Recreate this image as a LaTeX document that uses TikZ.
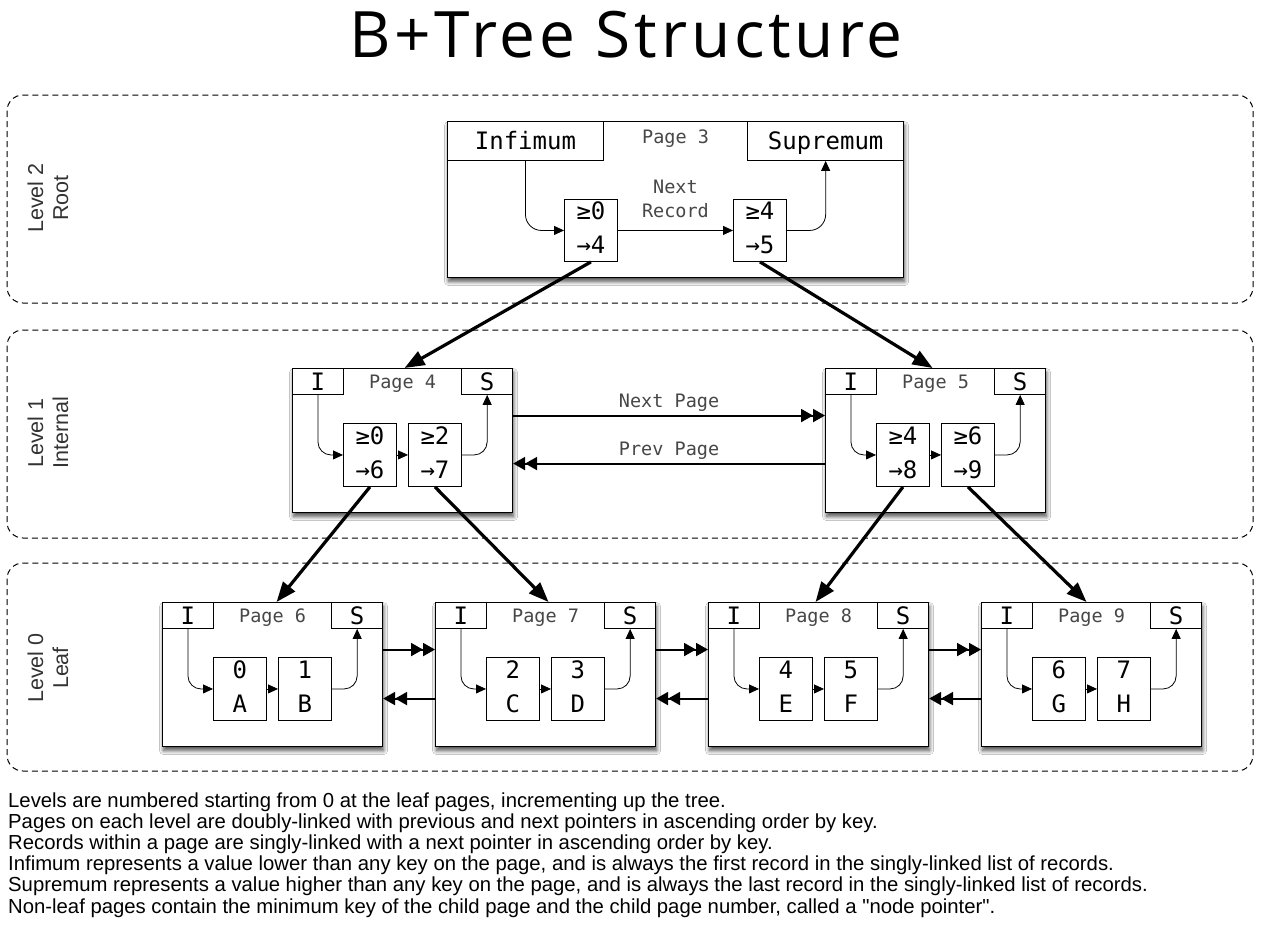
\documentclass[tikz,border=0pt]{standalone}
\usepackage{fontspec}
\setmainfont{Liberation Sans}
\newfontfamily\monof{DejaVu Sans Mono}
\newfontfamily\titlef{Open Sans}[LetterSpace=6]
\usetikzlibrary{arrows.meta,shadows.blur,calc}

\newcommand\recst{\rule[-5pt]{0pt}{20pt}}
\newcommand\rectext[2]{\recst#1\\\recst#2}
\newcommand\dq{\XeTeXglyph\XeTeXcharglyph"22\relax}

\tikzset{
  levelbox/.style={draw, line width=1pt, dash pattern=on 6pt off 4pt, rounded corners=16pt},
  levellabel/.style={rotate=90, align=center, text=black!80, font=\fontsize{21.5}{25}\selectfont},
  pagebox/.style={draw, line width=1.1pt, fill=white, inner sep=0pt, anchor=north west,
    blur shadow={shadow blur steps=8, shadow xshift=1pt, shadow yshift=-4pt, shadow blur radius=4pt, shadow opacity=70}},
  hdrbox/.style={draw, line width=0.9pt, fill=white, inner sep=0pt, minimum width=51pt, minimum height=26pt,
    text height=17.5pt, text depth=0pt, font=\monof\fontsize{24}{24}\selectfont},
  pglabel/.style={inner sep=1pt, text=black!72, font=\monof\fontsize{18.5}{24}\selectfont},
  recbox/.style={draw, line width=0.9pt, inner sep=0pt, minimum width=53pt, minimum height=63pt,
    anchor=north west, align=center, font=\monof\fontsize{24}{34}\selectfont},
  recarrow/.style={line width=0.8pt, -{Triangle[length=10pt,width=9pt]}},
  treearrow/.style={line width=3.2pt, -{Triangle[length=20pt,width=15pt]}},
  pagelink/.style={line width=2pt, -{Triangle[length=12pt,width=13pt]Triangle[length=12pt,width=13pt]}},
  notetext/.style={anchor=base west, inner sep=0pt, font=\fontsize{20.3}{21}\selectfont}
}

\newcommand\smallpage[6]{%
  \node[pagebox, minimum width=220pt, minimum height=144pt] (#1) at (#2,#3) {};
  \node[hdrbox, anchor=north west] (#1i) at (#1.north west) {I};
  \node[hdrbox, anchor=north east] (#1s) at (#1.north east) {S};
  \node[pglabel] (#1l) at ([yshift=-16pt]#1.north) {Page #4};
  \node[recbox] (#1a) at ([xshift=51pt,yshift=-55pt]#1.north west) {#5};
  \node[recbox] (#1b) at ([xshift=116pt,yshift=-55pt]#1.north west) {#6};
  \draw[recarrow, rounded corners=13pt] (#1i.south) |- (#1a.west);
  \draw[recarrow] (#1a.east) -- (#1b.west);
  \draw[recarrow, rounded corners=13pt] (#1b.east) -| (#1s.south);
}

\begin{document}
\begin{tikzpicture}[x=1pt,y=-1pt]
\useasboundingbox[fill=white] (0,0) rectangle (1274,934);

% title
\node[font=\titlef\fontsize{64}{64}\selectfont, anchor=base] (title) at (626,58) {B+Tree Structure};

% level regions
\draw[levelbox] (7,95) rectangle (1253,303);
\draw[levelbox] (7,330) rectangle (1253,538);
\draw[levelbox] (7,563) rectangle (1253,771);
\node[levellabel] (lv2) at (48,198) {Level 2\\Root};
\node[levellabel] (lv1) at (48,433) {Level 1\\Internal};
\node[levellabel] (lv0) at (48,668) {Level 0\\Leaf};

% root page
\node[pagebox, minimum width=456pt, minimum height=156pt] (p3) at (447,121) {};
\node[hdrbox, minimum width=156pt, minimum height=39pt, anchor=north west] (p3i) at (p3.north west) {Infimum};
\node[hdrbox, minimum width=156pt, minimum height=39pt, anchor=north east] (p3s) at (p3.north east) {Supremum};
\node[pglabel] (p3l) at ([yshift=-18pt]p3.north) {Page 3};
\node[recbox, minimum height=62pt] (p3a) at ([xshift=117pt,yshift=-78pt]p3.north west) {\rectext{≥0}{→4}};
\node[recbox, minimum height=62pt] (p3b) at ([xshift=286pt,yshift=-78pt]p3.north west) {\rectext{≥4}{→5}};
\draw[recarrow, rounded corners=16pt] (p3i.south) |- (p3a.west);
\draw[recarrow] (p3a.east) -- (p3b.west);
\draw[recarrow, rounded corners=16pt] (p3b.east) -| (p3s.south);
\node[pglabel, align=center] (nr) at ($(p3a.east)!0.5!(p3b.west)+(0,-32)$) {Next\\Record};

% level 1
\smallpage{p4}{292}{368}{4}{\rectext{≥0}{→6}}{\rectext{≥2}{→7}}
\smallpage{p5}{825}{368}{5}{\rectext{≥4}{→8}}{\rectext{≥6}{→9}}
\draw[pagelink] ([yshift=25pt]p4.east) -- node[pglabel, above=2pt] (np1) {Next Page} ([yshift=25pt]p5.west);
\draw[pagelink] ([yshift=-23pt]p5.west) -- node[pglabel, above=2pt] (pp1) {Prev Page} ([yshift=-23pt]p4.east);

% level 0
\smallpage{p6}{162}{602}{6}{\rectext{0}{A}}{\rectext{1}{B}}
\smallpage{p7}{435}{602}{7}{\rectext{2}{C}}{\rectext{3}{D}}
\smallpage{p8}{708}{602}{8}{\rectext{4}{E}}{\rectext{5}{F}}
\smallpage{p9}{981}{602}{9}{\rectext{6}{G}}{\rectext{7}{H}}
\foreach \a/\b in {p6/p7,p7/p8,p8/p9}{
  \draw[pagelink] ([yshift=25pt]\a.east) -- ([yshift=25pt]\b.west);
  \draw[pagelink] ([yshift=-24pt]\b.west) -- ([yshift=-24pt]\a.east);
}

% tree pointers
\draw[treearrow] (p3a.south) -- ([xshift=2pt]p4.north);
\draw[treearrow] (p3b.south) -- ([xshift=-3pt]p5.north);
\draw[treearrow] (p4a.south) -- ([xshift=4pt]p6.north);
\draw[treearrow] (p4b.south) -- ([xshift=3pt]p7.north);
\draw[treearrow] (p5a.south) -- ([xshift=-3pt]p8.north);
\draw[treearrow] (p5b.south) -- ([xshift=-5pt]p9.north);

% notes
\node[notetext] (n1) at (8,807) {Levels are numbered starting from 0 at the leaf pages, incrementing up the tree.};
\node[notetext] (n2) at (8,828.2) {Pages on each level are doubly-linked with previous and next pointers in ascending order by key.};
\node[notetext] (n3) at (8,849.4) {Records within a page are singly-linked with a next pointer in ascending order by key.};
\node[notetext] (n4) at (8,870.6) {Infimum represents a value lower than any key on the page, and is always the first record in the singly-linked list of records.};
\node[notetext] (n5) at (8,891.8) {Supremum represents a value higher than any key on the page, and is always the last record in the singly-linked list of records.};
\node[notetext] (n6) at (8,913) {Non-leaf pages contain the minimum key of the child page and the child page number, called a \dq node pointer\dq.};
\end{tikzpicture}
\end{document}
